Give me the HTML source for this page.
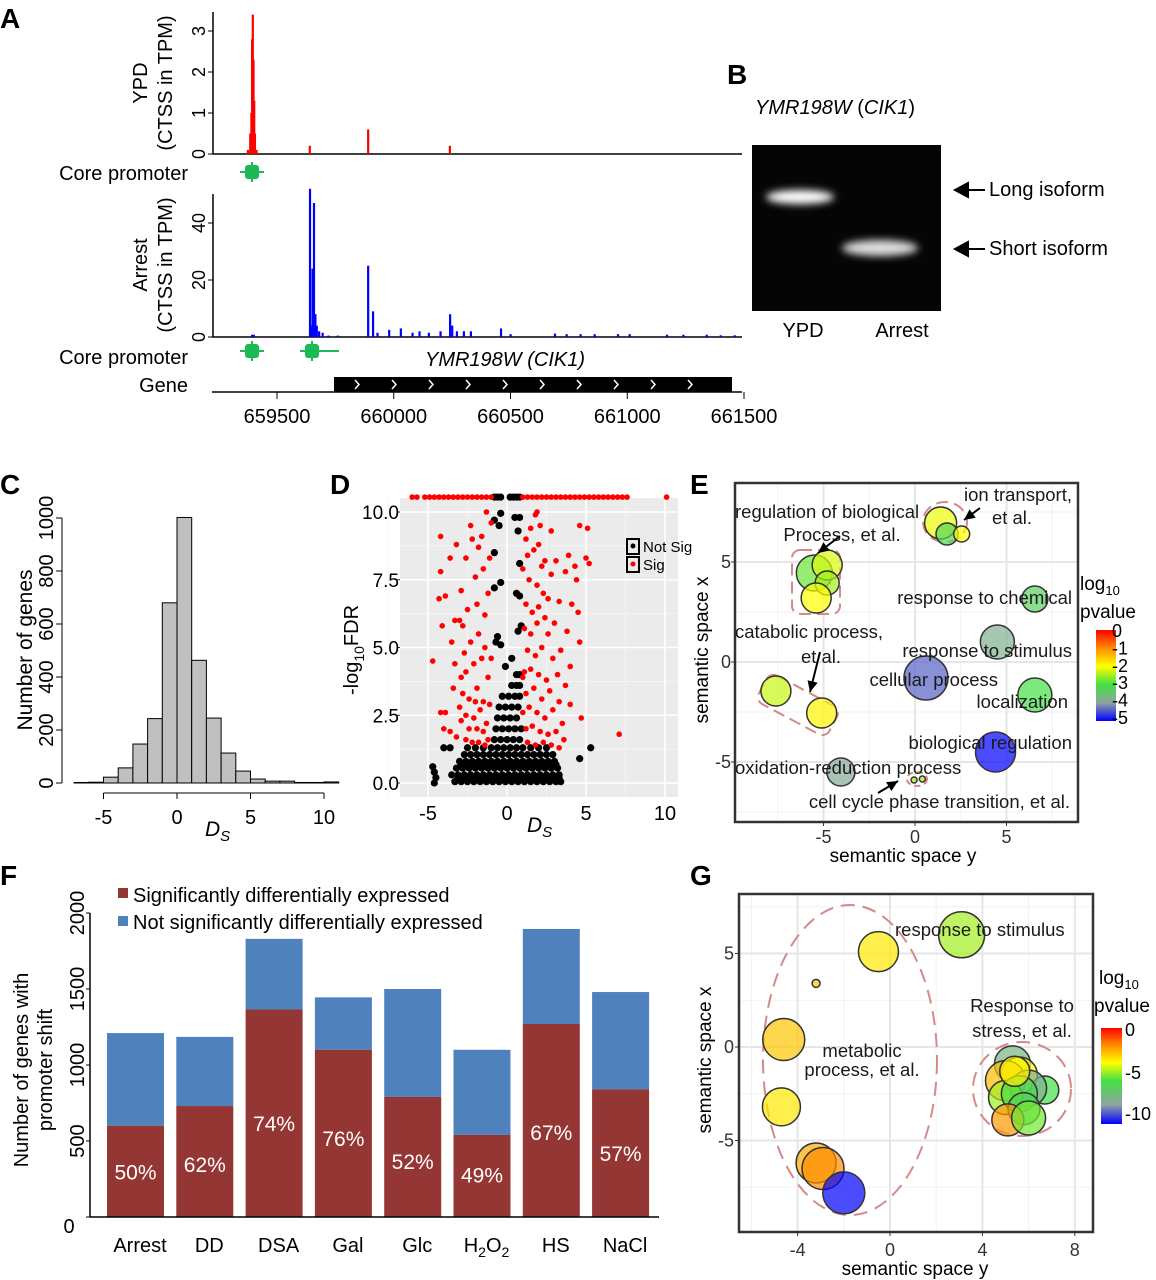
<!DOCTYPE html>
<html><head><meta charset="utf-8"><style>
html,body{margin:0;padding:0;background:#fff}
svg{display:block;font-family:"Liberation Sans",Arial,sans-serif}
</style></head><body>
<svg id="fig" xmlns="http://www.w3.org/2000/svg" width="1156" height="1280" viewBox="0 0 1156 1280">
<defs>
<filter id="blur" x="-50%" y="-100%" width="200%" height="300%"><feGaussianBlur stdDeviation="4"/></filter>
<linearGradient id="gradE" x1="0" y1="0" x2="0" y2="1">
<stop offset="0" stop-color="#ff0000"/><stop offset="0.2" stop-color="#ff8c00"/><stop offset="0.4" stop-color="#ffff00"/><stop offset="0.6" stop-color="#44e044"/><stop offset="0.8" stop-color="#8fa3a0"/><stop offset="1" stop-color="#0000ff"/></linearGradient>
<linearGradient id="gradG" x1="0" y1="0" x2="0" y2="1">
<stop offset="0" stop-color="#ff0000"/><stop offset="0.18" stop-color="#ff8c00"/><stop offset="0.36" stop-color="#ffff00"/><stop offset="0.55" stop-color="#44e044"/><stop offset="0.8" stop-color="#8fa3a0"/><stop offset="1" stop-color="#0000ff"/></linearGradient>
</defs>
<g font-weight="bold" font-size="28">
<text x="0" y="28">A</text>
<text x="727" y="84">B</text>
<text x="0" y="494">C</text>
<text x="330" y="494">D</text>
<text x="690" y="494">E</text>
<text x="0" y="885">F</text>
<text x="690" y="885">G</text>
</g>
<g id="pA"></g>
<g id="pB">
<text x="755" y="114" font-size="20" font-style="italic">YMR198W <tspan font-style="normal">(</tspan>CIK1<tspan font-style="normal">)</tspan></text>
<rect x="752" y="145" width="189" height="166" fill="#050505"/>
<ellipse cx="800" cy="197" rx="34" ry="7" fill="#fff" filter="url(#blur)"/>
<ellipse cx="880" cy="248" rx="38" ry="8" fill="#ddd" filter="url(#blur)"/>
<text x="803" y="337" font-size="20" text-anchor="middle">YPD</text>
<text x="902" y="337" font-size="20" text-anchor="middle">Arrest</text>
<path d="M985 190H960M968 183L955 190L968 197Z" stroke="#000" stroke-width="2" fill="#000"/>
<path d="M985 249H960M968 242L955 249L968 256Z" stroke="#000" stroke-width="2" fill="#000"/>
<text x="989" y="196" font-size="20">Long isoform</text>
<text x="989" y="255" font-size="20">Short isoform</text>
</g>
<g id="pC"></g>
<g id="pD"></g>
<g id="pE"></g>
<g id="pF"></g>
<g id="pG"></g>
</svg>
<script>
// ---------- DATA ----------
// Panel A
const ypdPos = [659375,659385,659390,659393,659396,659399,659402,659405,659412,659640,659890,660240];
const ypdVal = [0.1,0.5,1.0,2.8,3.4,2.3,1.3,0.5,0.1,0.2,0.6,0.2];
const arrPos = [659393,659400,659641,659645,659652,659658,659664,659670,659680,659695,659720,659760,659890,659911,659930,659980,660030,660080,660110,660150,660200,660241,660250,660270,660300,660330,660459,660500,660690,660740,660800,660860,660960,661010,661170,661240,661340,661400,661460];
const arrVal = [0.8,0.8,52,4,24,47,8,4,2,1.5,0.5,0.5,25,9,1.5,2.5,3,1.5,2,1.5,2,8,4,2,2,2,3,1,1.2,1,1,1,1,1,0.8,0.8,0.8,0.6,0.6];
const aTicks = [659500,660000,660500,661000,661500];
// Panel C
const histBins = [-7,-6,-5,-4,-3,-2,-1,0,1,2,3,4,5,6,7,8,9,10];
const histCounts = [2,3,22,57,147,243,680,1002,463,245,113,45,15,7,7,2,2,4];
const cTicksX = [-5,0,5,10];
const cTicksY = [0,200,400,600,800,1000];
// Panel D
const blackX = [-3.3,-2.9,-2.5,-2.1,-1.7,-1.3,-0.9,-0.5,-0.1,0.3,0.7,1.1,1.5,1.9,2.3,2.7,3.1,3.4,
 -3.5,-3.1,-2.7,-2.3,-1.9,-1.5,-1.1,-0.7,-0.3,0.1,0.5,0.9,1.3,1.7,2.1,2.5,2.9,3.3,
 -3.2,-2.8,-2.4,-2.0,-1.6,-1.2,-0.8,-0.4,0,0.4,0.8,1.2,1.6,2.0,2.4,2.8,3.2,
 -3.0,-2.6,-2.2,-1.8,-1.4,-1.0,-0.6,-0.2,0.2,0.6,1.0,1.4,1.8,2.2,2.6,3.0,
 -2.7,-2.3,-1.9,-1.5,-1.1,-0.7,-0.3,0.1,0.5,0.9,1.3,1.7,2.1,2.5,2.9,
 -2.5,-2.0,-1.5,-1.0,-0.6,-0.2,0.2,0.6,1.0,1.5,2.0,2.5,
 -0.8,-0.4,0,0.4,0.8,-0.7,-0.3,0.1,0.5,0.9,-0.6,-0.2,0.2,0.6,-0.5,-0.1,0.3,0.7,-0.3,0.1,0.5,0.8,0.3,0.6,0.8,0.6,0.8,
 -4.7,-4.6,-4.5,-4.6,-4,-3.6,4.6,5.3,-0.6,-0.7,-0.4,0.7,0.9,-0.1,0.3,-0.8,-0.4,0.8,0.6,-0.8,0.8,-0.8,-0.5,0.7,0.5,-0.4,0.8,
 -0.8,-0.6,-0.4,0.2,0.4,0.6,0.8,
 -3.1,-2.7,-2.3,-1.9,-1.5,-1.1,-0.7,-0.3,0.1,0.5,0.9,1.3,1.7,2.1,2.5,2.9,3.3,
 -2.9,-2.5,-2.1,-1.7,-1.3,-0.9,-0.5,-0.1,0.3,0.7,1.1,1.5,1.9,2.3,2.7,3.1];
const blackY = [0.05,0.05,0.05,0.05,0.05,0.05,0.05,0.05,0.05,0.05,0.05,0.05,0.05,0.05,0.05,0.05,0.05,0.05,
 0.3,0.3,0.3,0.3,0.3,0.3,0.3,0.3,0.3,0.3,0.3,0.3,0.3,0.3,0.3,0.3,0.3,0.3,
 0.55,0.55,0.55,0.55,0.55,0.55,0.55,0.55,0.55,0.55,0.55,0.55,0.55,0.55,0.55,0.55,0.55,
 0.8,0.8,0.8,0.8,0.8,0.8,0.8,0.8,0.8,0.8,0.8,0.8,0.8,0.8,0.8,0.8,
 1.05,1.05,1.05,1.05,1.05,1.05,1.05,1.05,1.05,1.05,1.05,1.05,1.05,1.05,1.05,
 1.3,1.3,1.3,1.3,1.3,1.3,1.3,1.3,1.3,1.3,1.3,1.3,
 1.6,1.6,1.6,1.6,1.6,2.0,2.0,2.0,2.0,2.0,2.4,2.4,2.4,2.4,2.8,2.8,2.8,2.8,3.2,3.2,3.2,3.2,3.6,3.6,3.6,4.0,4.0,
 0.6,0.4,0.2,0.0,1.3,1.3,0.9,1.3,5.4,5.2,5.1,5.6,5.8,4.3,4.6,7.2,7.4,6.9,7.0,8.5,8.1,9.7,9.5,9.3,9.8,9.95,9.8,
 10.55,10.55,10.55,10.55,10.55,10.55,10.55,
 0.18,0.18,0.18,0.18,0.18,0.18,0.18,0.18,0.18,0.18,0.18,0.18,0.18,0.18,0.18,0.18,0.18,
 0.68,0.68,0.68,0.68,0.68,0.68,0.68,0.68,0.68,0.68,0.68,0.68,0.68,0.68,0.68,0.68];
const redX = [-6.0,-5.7,-5.2,-4.9,-4.6,-4.3,-4.0,-3.7,-3.4,-3.1,-2.8,-2.5,-2.2,-1.9,-1.6,-1.3,-1.0,1.0,1.3,1.6,1.9,2.2,2.5,2.8,3.1,3.4,3.7,4.0,4.3,4.6,4.9,5.2,5.5,5.8,6.1,6.4,6.7,7.0,7.3,7.6,10.1,
 -4.2,-3.6,-4.2,-3.9,-4.3,-4.1,-3.3,-3.0,-2.8,-4.7,-3.3,-3.4,-2.9,-3.9,-4.2,-4.0,-3.6,-3.2,-2.6,-2.2,-1.8,-1.4,-1.2,-2.9,-2.4,-1.9,-1.5,-3.0,-2.6,-2.1,-1.7,-1.3,-2.8,-2.4,-1.9,-1.5,-1.1,-2.6,-2.1,-1.6,-1.2,-2.3,-1.8,-1.4,-1.0,-2.5,-1.9,-1.4,-2.9,-2.0,-1.5,-1.1,-2.6,-2.2,-1.6,-1.0,-1.3,-2.3,-1.8,-3.2,-1.2,-2.0,-3.5,-2.7,
 1.2,1.5,1.9,2.1,2.8,4.6,5.1,1.3,1.7,2.0,2.4,3.1,3.9,4.3,5.0,5.2,1.4,1.9,2.3,2.8,3.7,4.4,1.2,1.6,2.0,2.4,3.3,4.1,4.5,1.1,1.5,1.9,2.6,3.0,3.8,4.6,1.3,1.8,2.2,2.9,3.4,4.0,1.1,1.5,2.0,2.5,3.2,3.7,1.2,1.7,2.2,2.7,3.3,4.0,1.0,1.4,1.9,2.4,2.9,3.5,4.7,1.2,1.6,2.1,2.6,3.1,3.6,1.3,1.8,2.3,2.8,3.3,7.1,1.0,1.0,2.6,2.2,1.8];
const redY = [10.55,10.55,10.55,10.55,10.55,10.55,10.55,10.55,10.55,10.55,10.55,10.55,10.55,10.55,10.55,10.55,10.55,10.55,10.55,10.55,10.55,10.55,10.55,10.55,10.55,10.55,10.55,10.55,10.55,10.55,10.55,10.55,10.55,10.55,10.55,10.55,10.55,10.55,10.55,10.55,10.55,
 9.1,8.3,7.8,6.9,6.8,5.8,6.0,6.0,5.8,4.5,4.4,3.5,3.9,2.6,2.6,2.0,1.9,1.7,1.6,1.5,1.5,1.4,1.6,2.3,2.0,2.0,1.9,2.8,2.5,2.4,2.7,2.2,3.3,3.1,3.5,3.0,2.9,4.1,4.4,4.6,3.9,5.2,5.5,5.0,4.6,6.4,6.6,6.2,7.1,7.6,7.9,8.3,8.3,9.0,9.1,9.6,10.0,9.5,8.7,8.8,7.0,3.0,5.2,4.8,
 9.0,9.4,10.0,9.5,9.3,9.5,9.4,8.4,8.6,8.8,8.2,8.2,8.4,8.0,8.3,8.1,7.5,7.3,7.0,7.7,7.8,7.5,6.6,6.3,6.5,6.1,6.7,6.6,6.3,5.7,5.5,5.9,5.5,5.9,5.6,5.2,4.9,4.7,5.0,4.6,4.9,4.3,4.1,4.2,4.0,3.8,4.0,3.6,3.3,3.5,3.1,3.4,3.0,2.9,2.6,2.8,2.6,2.4,2.7,2.2,2.4,2.0,2.1,1.9,1.8,1.9,1.6,1.5,1.4,1.5,1.4,1.3,1.8,3.9,7.9,6.8,8.0,9.9];
const dTicksX = [-5,0,5,10];
const dTicksY = [0,2.5,5,7.5,10];
const dTickLabelsY = ["0.0","2.5","5.0","7.5","10.0"];
// Panel E
const eX = [-5.5,-4.8,-4.8,-5.4,1.4,1.75,2.55,6.55,4.5,0.6,6.55,4.4,-4.05,-7.6,-5.1,-0.05,0.4];
const eY = [4.45,4.85,3.95,3.2,6.95,6.4,6.4,3.15,1.0,-0.8,-1.65,-4.5,-5.5,-1.45,-2.55,-5.9,-5.85];
const eSize = [18,15,12,15,16,11,8,13,17,22,17,20,14,15,15,3,3];
const eP = [-2.8,-2.2,-2.5,-2.0,-2.1,-3.2,-2.0,-3.3,-3.8,-4.4,-3.0,-5,-3.9,-2.3,-1.9,-2.5,-2.5];
const eTicks = [-5,0,5];
// Panel F
const fCats = ["Arrest","DD","DSA","Gal","Glc","H2O2","HS","NaCl"];
const fSig = [600,730,1365,1100,790,540,1270,840];
const fTotal = [1210,1185,1830,1445,1500,1100,1895,1480];
const fPct = ["50%","62%","74%","76%","52%","49%","67%","57%"];
const fPctY = [300,350,620,520,370,280,560,420];
const fTicks = [0,500,1000,1500,2000];
// Panel G
const gX = [-0.5,3.1,-3.2,-4.6,-4.7,-3.2,-2.9,-2.0,5.3,5.6,5.0,6.7,6.0,5.0,5.6,5.8,5.1,6.0,5.4];
const gY = [5.1,6.0,3.4,0.4,-3.2,-6.2,-6.5,-7.8,-0.9,-1.5,-1.8,-2.3,-2.2,-2.7,-2.5,-3.3,-3.9,-3.8,-1.3];
const gSize = [20,23,4,21,19,20,21,21,18,18,20,14,18,17,18,16,16,17,15];
const gP = [-3.6,-5,-3,-3,-3.6,-2.5,-2,-11,-8,-4,-2.8,-6,-8.5,-5,-6,-6.5,-2.2,-5.5,-3.8];
const gTicksX = [-4,0,4,8];
const gTicksY = [-5,0,5];

// ---------- helpers ----------
const NS = "http://www.w3.org/2000/svg";
function mk(parent, tag, attrs, txt){
  const el = document.createElementNS(NS, tag);
  for (const k in attrs) el.setAttribute(k, attrs[k]);
  if (txt !== undefined) el.textContent = txt;
  parent.appendChild(el);
  return el;
}
function lerpColor(stops, v){
  for (let i=0;i<stops.length-1;i++){
    const a=stops[i], b=stops[i+1];
    if (v<=a[0] && v>=b[0]){
      const t=(a[0]-v)/(a[0]-b[0]);
      const c=a[1].map((x,j)=>Math.round(x+(b[1][j]-x)*t));
      return `rgb(${c[0]},${c[1]},${c[2]})`;
    }
  }
  const s = v>stops[0][0]?stops[0]:stops[stops.length-1];
  return `rgb(${s[1].join(',')})`;
}
const stopsE=[[0,[255,0,0]],[-1,[255,140,0]],[-2,[255,255,0]],[-3,[68,224,68]],[-4,[143,163,160]],[-5,[0,0,255]]];
const stopsG=[[0,[255,0,0]],[-2,[255,140,0]],[-4,[255,255,0]],[-6,[68,224,68]],[-9,[143,163,160]],[-11,[0,0,255]]];

// ---------- Panel A ----------
(function(){
  const g=document.getElementById('pA');
  const ax = v => 277 + (v-659500)*0.2335;
  const yY = v => 154 - v*41;
  const yA = v => 337 - v*2.85;
  let el;
  el=mk(g,'path',{d:'M213 12V154H742',stroke:'#000','stroke-width':1.5,fill:'none'});
  
  
  el=mk(g,'path',{d:'M213 194V337H742',stroke:'#000','stroke-width':1.5,fill:'none'});
  
  
  [0,1,2,3].forEach(t=>{
    mk(g,'line',{x1:208,x2:213,y1:yY(t),y2:yY(t),stroke:'#000'});
    el=mk(g,'text',{x:0,y:0,transform:`translate(205,${yY(t)}) rotate(-90)`,'text-anchor':'middle','font-size':18},String(t));
    
    
  });
  [0,20,40].forEach(t=>{
    mk(g,'line',{x1:208,x2:213,y1:yA(t),y2:yA(t),stroke:'#000'});
    el=mk(g,'text',{x:0,y:0,transform:`translate(205,${yA(t)}) rotate(-90)`,'text-anchor':'middle','font-size':18},String(t));
    
    
  });
  el=mk(g,'text',{transform:'translate(147,83) rotate(-90)','text-anchor':'middle','font-size':20},'YPD');
  
  
  el=mk(g,'text',{transform:'translate(172,83) rotate(-90)','text-anchor':'middle','font-size':20},'(CTSS in TPM)');
  
  
  el=mk(g,'text',{transform:'translate(147,265) rotate(-90)','text-anchor':'middle','font-size':20},'Arrest');
  
  
  el=mk(g,'text',{transform:'translate(172,265) rotate(-90)','text-anchor':'middle','font-size':20},'(CTSS in TPM)');
  
  
  ypdPos.forEach((p,i)=>{
    el=mk(g,'rect',{x:ax(p)-1,y:yY(ypdVal[i]),width:2.2,height:ypdVal[i]*41,fill:'#ff0000'});
    
    
  });
  arrPos.forEach((p,i)=>{
    el=mk(g,'rect',{x:ax(p)-1,y:yA(arrVal[i]),width:2.2,height:arrVal[i]*2.85,fill:'#0000ff'});
    
    
  });
  function prom(x,y,tail){
    const gg=mk(g,'g',{fill:'#1db954',stroke:'#1db954'});
    
    
    mk(gg,'line',{x1:x-12,x2:x+12+(tail||0),y1:y,y2:y,'stroke-width':2});
    mk(gg,'line',{x1:x,x2:x,y1:y-10,y2:y+10,'stroke-width':2});
    mk(gg,'rect',{x:x-7,y:y-7,width:14,height:14,rx:3,stroke:'none'});
  }
  prom(252,172); prom(252,351); prom(312,351,15);
  el=mk(g,'text',{x:188,y:180,'text-anchor':'end','font-size':20},'Core promoter');
  
  
  el=mk(g,'text',{x:188,y:364,'text-anchor':'end','font-size':20},'Core promoter');
  
  
  el=mk(g,'text',{x:188,y:392,'text-anchor':'end','font-size':20},'Gene');
  
  
  el=mk(g,'text',{x:505,y:366,'text-anchor':'middle','font-size':20,'font-style':'italic'},'YMR198W (CIK1)');
  
  
  el=mk(g,'line',{x1:212,x2:742,y1:392,y2:392,stroke:'#000','stroke-width':1.5});
  
  
  el=mk(g,'rect',{x:334,y:377,width:398,height:15,fill:'#000'});
  
  
  for(let i=0;i<10;i++){
    const cx=357+i*37;
    mk(g,'path',{d:`M${cx-2} 380L${cx+2} 384.5L${cx-2} 389`,stroke:'#fff','stroke-width':1.5,fill:'none'});
  }
  aTicks.forEach(t=>{
    mk(g,'line',{x1:ax(t),x2:ax(t),y1:392,y2:399,stroke:'#000'});
    el=mk(g,'text',{x:ax(t),y:423,'text-anchor':'middle','font-size':20},String(t));
    
    
  });
})();

// ---------- Panel C ----------
(function(){
  const g=document.getElementById('pC');
  const x = v => 177 + v*14.7;
  const y = v => 783 - v*0.265;
  let el;
  histBins.forEach((b,i)=>{
    el=mk(g,'rect',{x:x(b),y:y(histCounts[i]),width:14.7,height:histCounts[i]*0.265,fill:'#c0c0c0',stroke:'#000','stroke-width':1});
    
    
  });
  mk(g,'line',{x1:62,x2:62,y1:y(0),y2:y(1000),stroke:'#000'});
  cTicksY.forEach(t=>{
    mk(g,'line',{x1:56,x2:62,y1:y(t),y2:y(t),stroke:'#000'});
    el=mk(g,'text',{transform:`translate(53,${y(t)}) rotate(-90)`,'text-anchor':'middle','font-size':20},String(t));
    
    
  });
  mk(g,'line',{x1:x(-5),x2:x(10),y1:793,y2:793,stroke:'#000'});
  cTicksX.forEach(t=>{
    mk(g,'line',{x1:x(t),x2:x(t),y1:793,y2:799,stroke:'#000'});
    el=mk(g,'text',{x:x(t),y:824,'text-anchor':'middle','font-size':20},String(t));
    
    
  });
  el=mk(g,'text',{transform:'translate(32,650) rotate(-90)','text-anchor':'middle','font-size':21},'Number of genes');
  
  
  el=mk(g,'text',{x:205,y:836,'font-size':21,'font-style':'italic'},'D');
  
  
  mk(el,'tspan',{dy:5,'font-size':15},'S');
})();

// ---------- Panel D ----------
(function(){
  const g=document.getElementById('pD');
  const x = v => 507 + v*15.8;
  const y = v => 783 - v*27.1;
  let el;
  el=mk(g,'rect',{x:400,y:498,width:278,height:299,fill:'#ebebeb'});
  
  
  [-7.5,-2.5,2.5,7.5].forEach(t=>mk(g,'line',{x1:x(t),x2:x(t),y1:498,y2:797,stroke:'#f7f7f7','stroke-width':0.8}));
  [1.25,3.75,6.25,8.75].forEach(t=>mk(g,'line',{x1:400,x2:678,y1:y(t),y2:y(t),stroke:'#f7f7f7','stroke-width':0.8}));
  dTicksX.forEach(t=>mk(g,'line',{x1:x(t),x2:x(t),y1:498,y2:797,stroke:'#fff','stroke-width':1.6}));
  dTicksY.forEach(t=>mk(g,'line',{x1:400,x2:678,y1:y(t),y2:y(t),stroke:'#fff','stroke-width':1.6}));
  blackX.forEach((v,i)=>{
    el=mk(g,'circle',{cx:x(v),cy:y(blackY[i]),r:3.6,fill:'#000'});
    
    
  });
  redX.forEach((v,i)=>{
    el=mk(g,'circle',{cx:x(v),cy:y(redY[i]),r:2.8,fill:'#ff0000'});
    
    
  });
  dTicksY.forEach((t,i)=>{
    mk(g,'line',{x1:397,x2:400,y1:y(t),y2:y(t),stroke:'#333'});
    el=mk(g,'text',{x:399,y:y(t)+7,'text-anchor':'end','font-size':19},dTickLabelsY[i]);
    
    
  });
  dTicksX.forEach(t=>{
    el=mk(g,'text',{x:x(t),y:820,'text-anchor':'middle','font-size':20},String(t));
    
    
  });
  el=mk(g,'text',{transform:'translate(358,650) rotate(-90)','text-anchor':'middle','font-size':20},'-log');
  
  
  mk(el,'tspan',{dy:6,'font-size':14},'10');
  mk(el,'tspan',{dy:-6},'FDR');
  el=mk(g,'text',{x:527,y:832,'font-size':21,'font-style':'italic'},'D');
  
  
  mk(el,'tspan',{dy:5,'font-size':15},'S');
  const lg=mk(g,'g',{});
  
  
  mk(lg,'rect',{x:627,y:539,width:12,height:15,fill:'none',stroke:'#000','stroke-width':2});
  mk(lg,'rect',{x:627,y:557,width:12,height:15,fill:'none',stroke:'#000','stroke-width':2});
  mk(lg,'circle',{cx:633,cy:546,r:2.5,fill:'#000'});
  mk(lg,'circle',{cx:633,cy:564,r:2.5,fill:'#f00'});
  mk(lg,'text',{x:643,y:552,'font-size':15},'Not Sig');
  mk(lg,'text',{x:643,y:570,'font-size':15},'Sig');
})();

function bubbles(gid, xs, ys, sizes, ps, stops, xf, yf, name){
  const g=document.getElementById(gid);
  let el;
  sizes.forEach((s,i)=>{
    el=mk(g,'circle',{cx:xf(xs[i]),cy:yf(ys[i]),r:s,fill:lerpColor(stops,ps[i]),'fill-opacity':0.7,stroke:'#333','stroke-width':1.5});
    
    
  });
}

// ---------- Panel E ----------
(function(){
  const g=document.getElementById('pE');
  const x = v => 915 + v*18.3;
  const y = v => 662 - v*20;
  let el;
  el=mk(g,'rect',{x:735,y:483,width:343,height:339,fill:'#fff'});
  
  
  [-7.5,-2.5,2.5,7.5].forEach(t=>mk(g,'line',{x1:x(t),x2:x(t),y1:483,y2:822,stroke:'#f2f2f2','stroke-width':1}));
  [-7.5,-2.5,2.5,7.5].forEach(t=>mk(g,'line',{x1:735,x2:1078,y1:y(t),y2:y(t),stroke:'#f2f2f2','stroke-width':1}));
  eTicks.forEach(t=>{mk(g,'line',{x1:x(t),x2:x(t),y1:483,y2:822,stroke:'#e6e6e6','stroke-width':2});mk(g,'line',{x1:735,x2:1078,y1:y(t),y2:y(t),stroke:'#e6e6e6','stroke-width':2});});
  mk(g,'rect',{x:792,y:550,width:48,height:64,rx:8,fill:'none',stroke:'#d58a8a','stroke-width':2,'stroke-dasharray':'12 6'});
  mk(g,'ellipse',{cx:945,cy:522,rx:22,ry:20,fill:'none',stroke:'#d58a8a','stroke-width':2,'stroke-dasharray':'12 6'});
  mk(g,'rect',{x:758,y:689,width:80,height:32,rx:8,transform:'rotate(28 798 705)',fill:'none',stroke:'#d58a8a','stroke-width':2,'stroke-dasharray':'12 6'});
  mk(g,'ellipse',{cx:917,cy:779,rx:10,ry:7,fill:'none',stroke:'#d58a8a','stroke-width':2,'stroke-dasharray':'6 4'});
  bubbles('pE',eX,eY,eSize,eP,stopsE,x,y,'go-term-bubble');
  el=mk(g,'rect',{x:735,y:483,width:343,height:339,fill:'none',stroke:'#333','stroke-width':2.5});
  
  
  const labels=[[735,518,'start','regulation of biological'],[842,541,'middle','Process, et al.'],[1072,501,'end','ion transport,'],[1012,524,'middle','et al.'],[1072,604,'end','response to chemical'],[735,638,'start','catabolic process,'],[821,663,'middle','et al.'],[1072,657,'end','response to stimulus'],[998,686,'end','cellular process'],[1068,708,'end','localization'],[1072,749,'end','biological regulation'],[735,774,'start','oxidation-reduction process'],[1070,808,'end','cell cycle phase transition, et al.']];
  labels.forEach(l=>{
    el=mk(g,'text',{x:l[0],y:l[1],'text-anchor':l[2],'font-size':18.5,fill:'#1a1a1a'},l[3]);
    
    
  });
  [[840,536,818,553],[980,508,964,520],[820,652,810,692],[878,793,898,781]].forEach(a=>{
    const ang=Math.atan2(a[3]-a[1],a[2]-a[0]);
    mk(g,'line',{x1:a[0],y1:a[1],x2:a[2],y2:a[3],stroke:'#000','stroke-width':2});
    const p=(s)=>[a[2]-12*Math.cos(ang+s),a[3]-12*Math.sin(ang+s)];
    const p1=p(0.45),p2=p(-0.45);
    mk(g,'path',{d:`M${a[2]} ${a[3]}L${p1[0]} ${p1[1]}L${p2[0]} ${p2[1]}Z`,fill:'#000'});
  });
  eTicks.forEach(t=>{
    mk(g,'line',{x1:x(t),x2:x(t),y1:822,y2:826,stroke:'#333'});
    el=mk(g,'text',{x:x(t),y:843,'text-anchor':'middle','font-size':18,fill:'#333'},String(t));
    
    
    mk(g,'line',{x1:731,x2:735,y1:y(t),y2:y(t),stroke:'#333'});
    el=mk(g,'text',{x:731,y:y(t)+6,'text-anchor':'end','font-size':18,fill:'#333'},String(t));
    
    
  });
  el=mk(g,'text',{x:903,y:862,'text-anchor':'middle','font-size':19},'semantic space y');
  
  
  el=mk(g,'text',{transform:'translate(708,650) rotate(-90)','text-anchor':'middle','font-size':19},'semantic space x');
  
  
  el=mk(g,'text',{x:1080,y:590,'font-size':19},'log');
  
  
  mk(el,'tspan',{dy:5,'font-size':13},'10');
  el=mk(g,'text',{x:1080,y:618,'font-size':19},'pvalue');
  
  
  el=mk(g,'rect',{x:1096,y:630,width:20,height:91,fill:'url(#gradE)'});
  
  
  ['0','-1','-2','-3','-4','-5'].forEach((t,i)=>{
    el=mk(g,'text',{x:1112,y:637+i*17.4,'font-size':18},t);
    
    
  });
})();

// ---------- Panel F ----------
(function(){
  const g=document.getElementById('pF');
  const y = v => 1217 - v*0.152;
  const bx = i => 107 + i*69.3;
  let el;
  fCats.forEach((c,i)=>{
    el=mk(g,'rect',{x:bx(i),y:y(fTotal[i]),width:57,height:(fTotal[i]-fSig[i])*0.152,fill:'#4f81bd'});
    
    
    el=mk(g,'rect',{x:bx(i),y:y(fSig[i]),width:57,height:fSig[i]*0.152,fill:'#943634'});
    
    
    el=mk(g,'text',{x:bx(i)+28.5,y:y(fPctY[i])+8,'text-anchor':'middle','font-size':21,fill:'#fff'},fPct[i]);
    
    
    el=mk(g,'text',{x:bx(i)+33,y:1252,'text-anchor':'middle','font-size':20},c==='H2O2'?'':c);
    
    
    if(c==='H2O2'){
      el.textContent='H';
      mk(el,'tspan',{dy:5,'font-size':14},'2');
      mk(el,'tspan',{dy:-5},'O');
      mk(el,'tspan',{dy:5,'font-size':14},'2');
    }
  });
  mk(g,'line',{x1:90,x2:90,y1:y(0),y2:y(2000),stroke:'#000','stroke-width':1.5});
  mk(g,'line',{x1:90,x2:659,y1:y(0),y2:y(0),stroke:'#000','stroke-width':1.5});
  fTicks.forEach(t=>{
    mk(g,'line',{x1:86,x2:90,y1:y(t),y2:y(t),stroke:'#000'});
    el=mk(g,'text',{transform:t===0?`translate(69,${y(t)+16})`:`translate(84,${y(t)}) rotate(-90)`,'text-anchor':'middle','font-size':20},String(t));
    
    
  });
  el=mk(g,'text',{transform:'translate(28,1070) rotate(-90)','text-anchor':'middle','font-size':20},'Number of genes with');
  
  
  el=mk(g,'text',{transform:'translate(52,1070) rotate(-90)','text-anchor':'middle','font-size':20},'promoter shift');
  
  
  el=mk(g,'rect',{x:118,y:888,width:10,height:10,fill:'#943634'});
  
  
  el=mk(g,'text',{x:133,y:902,'font-size':20},'Significantly differentially expressed');
  
  
  el=mk(g,'rect',{x:118,y:916,width:10,height:10,fill:'#4f81bd'});
  
  
  el=mk(g,'text',{x:133,y:929,'font-size':20},'Not significantly differentially expressed');
  
  
})();

// ---------- Panel G ----------
(function(){
  const g=document.getElementById('pG');
  const x = v => 890 + v*23.1;
  const y = v => 1047 - v*18.7;
  let el;
  [-6,-2,2,6].forEach(t=>mk(g,'line',{x1:x(t),x2:x(t),y1:894,y2:1232,stroke:'#f2f2f2','stroke-width':1}));
  [-7.5,-2.5,2.5,7.5].forEach(t=>mk(g,'line',{x1:739,x2:1093,y1:y(t),y2:y(t),stroke:'#f2f2f2','stroke-width':1}));
  gTicksX.forEach(t=>mk(g,'line',{x1:x(t),x2:x(t),y1:894,y2:1232,stroke:'#e6e6e6','stroke-width':2}));
  gTicksY.forEach(t=>mk(g,'line',{x1:739,x2:1093,y1:y(t),y2:y(t),stroke:'#e6e6e6','stroke-width':2}));
  mk(g,'ellipse',{cx:850,cy:1060,rx:87,ry:155,fill:'none',stroke:'#d58a8a','stroke-width':2,'stroke-dasharray':'14 8'});
  mk(g,'ellipse',{cx:1022,cy:1089,rx:49,ry:47,fill:'none',stroke:'#d58a8a','stroke-width':2,'stroke-dasharray':'14 8'});
  bubbles('pG',gX,gY,gSize,gP,stopsG,x,y,'go-term-bubble-g');
  el=mk(g,'rect',{x:739,y:894,width:354,height:338,fill:'none',stroke:'#333','stroke-width':2.5});
  
  
  [[895,936,'start','response to stimulus'],[862,1057,'middle','metabolic'],[862,1076,'middle','process, et al.'],[1022,1012,'middle','Response to'],[1022,1037,'middle','stress, et al.']].forEach(l=>{
    el=mk(g,'text',{x:l[0],y:l[1],'text-anchor':l[2],'font-size':18.5,fill:'#1a1a1a'},l[3]);
    
    
  });
  gTicksX.forEach(t=>{
    mk(g,'line',{x1:x(t),x2:x(t),y1:1232,y2:1236,stroke:'#333'});
    el=mk(g,'text',{x:x(t),y:1256,'text-anchor':'middle','font-size':18,fill:'#333'},String(t));
    
    
  });
  gTicksY.forEach(t=>{
    mk(g,'line',{x1:735,x2:739,y1:y(t),y2:y(t),stroke:'#333'});
    el=mk(g,'text',{x:734,y:y(t)+6,'text-anchor':'end','font-size':18,fill:'#333'},String(t));
    
    
  });
  el=mk(g,'text',{x:915,y:1275,'text-anchor':'middle','font-size':19},'semantic space y');
  
  
  el=mk(g,'text',{transform:'translate(711,1060) rotate(-90)','text-anchor':'middle','font-size':19},'semantic space x');
  
  
  el=mk(g,'text',{x:1099,y:984,'font-size':19},'log');
  
  
  mk(el,'tspan',{dy:5,'font-size':13},'10');
  el=mk(g,'text',{x:1094,y:1012,'font-size':19},'pvalue');
  
  
  el=mk(g,'rect',{x:1101,y:1028,width:21,height:96,fill:'url(#gradG)'});
  
  
  [['0',1036],['-5',1079],['-10',1120]].forEach(l=>{
    el=mk(g,'text',{x:1125,y:l[1],'font-size':18},l[0]);
    
    
  });
})();
</script>
</body></html>
